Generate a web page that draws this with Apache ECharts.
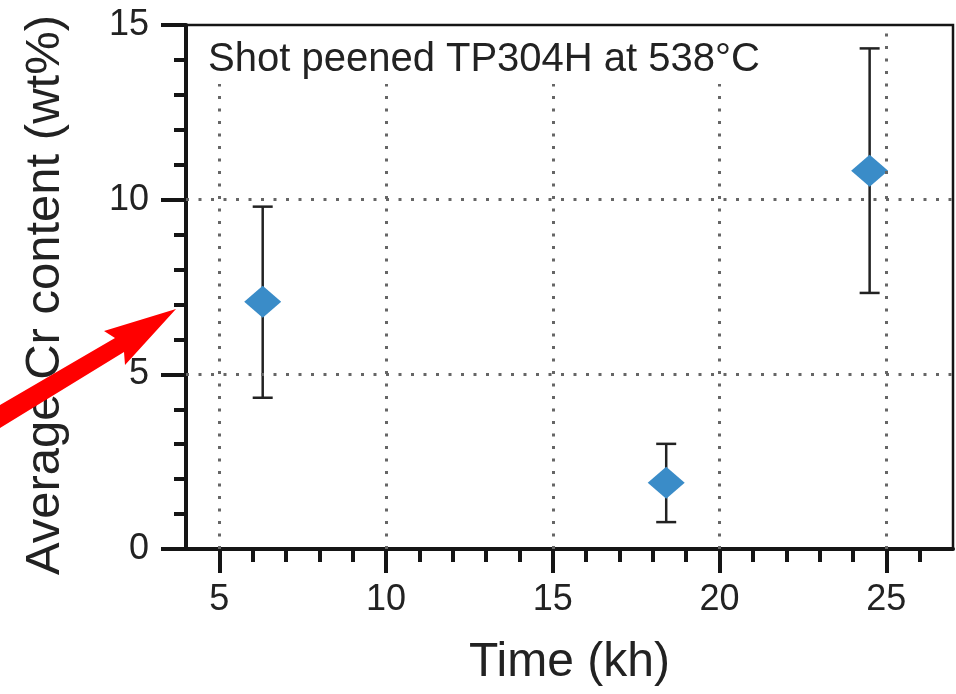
<!DOCTYPE html>
<html>
    <head>
        <meta charset="utf-8">
        <title>Cr content</title>
        <script src="https://cdn.jsdelivr.net/npm/echarts@6.0.0/dist/echarts.min.js"></script>
        <style>
            html, body { margin: 0; padding: 0; background: #fff; }
        </style>
    </head>
    <body>
        <div id="main" style="width:956px; height:694px;"></div>
        <script type="text/javascript">
            // values
            var timeKh = [6.3, 18.4, 24.5]
            var crAvg = [7.08, 1.90, 10.83]
            var crLow = [4.33, 0.77, 7.33]
            var crHigh = [9.80, 3.01, 14.33]
            var xTicks = [5, 10, 15, 20, 25]
            var gridX = [5, 10, 15, 20, 25]
            var gridY = [5, 10]

            var font = "'Liberation Sans', Arial, sans-serif"
            var ink = '#151515'

            var points = []
            var bars = []
            for (var i = 0; i < timeKh.length; i++) {
                points.push([timeKh[i], crAvg[i]])
                bars.push([timeKh[i], crLow[i], crHigh[i]])
            }

            var guides = []
            gridX.forEach(function(v) { guides.push({xAxis: v}) })
            gridY.forEach(function(v) { guides.push({yAxis: v}) })

            var myChart = echarts.init(document.querySelector('#main'))
            var option = {
                animation: false,
                title: {
                    text: 'Shot peened TP304H at 538°C',
                    left: 194,
                    top: 27,
                    padding: [12, 12, 3, 14],
                    backgroundColor: '#fff',
                    textStyle: {
                        fontFamily: font,
                        fontSize: 40,
                        fontWeight: 'normal',
                        color: '#222',
                        lineHeight: 42
                    }
                },
                grid: {
                    left: 186,
                    top: 25,
                    right: 3,
                    bottom: 145,
                    show: true,
                    borderColor: ink,
                    borderWidth: 2.5
                },
                xAxis: {
                    type: 'value',
                    min: 4,
                    max: 27,
                    minInterval: 5,
                    maxInterval: 5,
                    name: 'Time (kh)',
                    nameLocation: 'middle',
                    nameGap: 90,
                    nameTextStyle: {fontFamily: font, fontSize: 48, color: '#222'},
                    axisLine: {onZero: false, lineStyle: {color: ink, width: 4}},
                    axisTick: {customValues: xTicks, length: 24, lineStyle: {color: ink, width: 4}},
                    minorTick: {show: true, splitNumber: 5, length: 13, lineStyle: {color: ink, width: 4}},
                    axisLabel: {customValues: xTicks, margin: 33, fontFamily: font, fontSize: 36, color: '#222'},
                    splitLine: {show: false}
                },
                yAxis: {
                    type: 'value',
                    min: 0,
                    max: 15,
                    interval: 5,
                    name: 'Average Cr content (wt%)',
                    nameLocation: 'middle',
                    nameGap: 116,
                    nameTextStyle: {fontFamily: font, fontSize: 49, color: '#222', padding: [0, 16, 0, 0]},
                    axisLine: {onZero: false, lineStyle: {color: ink, width: 4}},
                    axisTick: {length: 25, lineStyle: {color: ink, width: 4}},
                    minorTick: {show: true, splitNumber: 5, length: 12, lineStyle: {color: ink, width: 4}},
                    axisLabel: {margin: 37, fontFamily: font, fontSize: 36, color: '#222'},
                    splitLine: {show: false}
                },
                series: [
                    {
                        name: 'range',
                        type: 'custom',
                        data: bars,
                        encode: {x: 0, y: [1, 2]},
                        z: 3,
                        renderItem: function(params, api) {
                            var x = api.value(0)
                            var top = api.coord([x, api.value(2)])
                            var bot = api.coord([x, api.value(1)])
                            var cap = 10
                            var st = {stroke: '#222', lineWidth: 2.5}
                            return {
                                type: 'group',
                                children: [
                                    {type: 'line', shape: {x1: top[0], y1: top[1], x2: bot[0], y2: bot[1]}, style: st},
                                    {type: 'line', shape: {x1: top[0] - cap, y1: top[1], x2: top[0] + cap, y2: top[1]}, style: st},
                                    {type: 'line', shape: {x1: bot[0] - cap, y1: bot[1], x2: bot[0] + cap, y2: bot[1]}, style: st}
                                ]
                            }
                        }
                    },
                    {
                        name: 'Cr',
                        type: 'scatter',
                        data: points,
                        z: 4,
                        symbol: 'diamond',
                        symbolSize: [37, 32],
                        itemStyle: {color: '#3a8cc8', opacity: 1},
                        markLine: {
                            silent: true,
                            symbol: 'none',
                            label: {show: false},
                            lineStyle: {color: '#666', width: 3, type: [3, 9.5], opacity: 1},
                            data: guides
                        }
                    }
                ],
                graphic: [
                    {
                        type: 'polygon',
                        z: 100,
                        shape: {
                            points: [[0, 405], [115, 338], [104, 331], [176, 309], [125, 365], [124, 352], [0, 428]]
                        },
                        style: {fill: '#ff0000'}
                    }
                ]
            }
            myChart.setOption(option)
        </script>
    </body>
</html>
